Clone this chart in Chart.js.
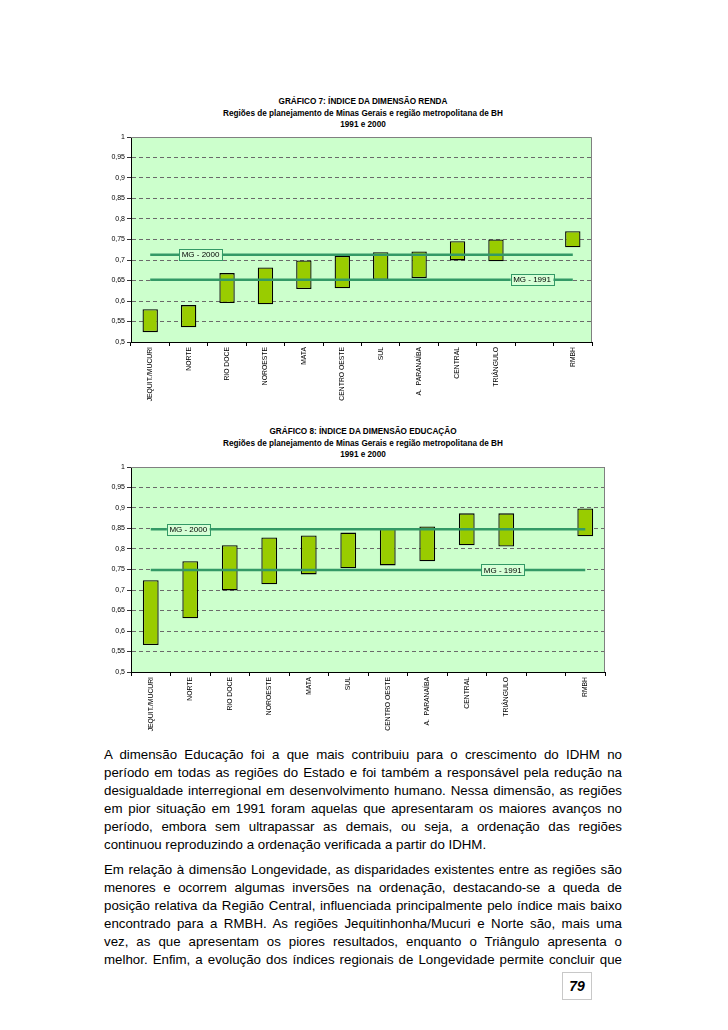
<!DOCTYPE html>
<html>
<head>
<meta charset="utf-8">
<script src="https://cdn.jsdelivr.net/npm/chart.js@4.4.1/dist/chart.umd.min.js"></script>
<style>
  body { margin: 0; background: #fff; width: 728px; height: 1030px; position: relative; overflow: hidden;
         font-family: "Liberation Sans", Arial, sans-serif; color: #000; }
  .titulo { position: absolute; left: 163px; width: 400px; text-align: center; font-weight: bold;
            font-size: 8.2px; line-height: 11.5px; }
  .grafico { position: absolute; left: 95px; }
  .texto { position: absolute; left: 104px; top: 746px; width: 518px; font-size: 13.3px; line-height: 18px; }
  .texto p { margin: 0 0 7px 0; }
  .texto span { display: block; text-align: justify; text-align-last: justify; }
  .texto span.fim { text-align-last: left; }
  .pagina { position: absolute; left: 562px; top: 972px; width: 28px; height: 26px; border: 1px solid #c8c8c8;
            font-weight: bold; font-style: italic; font-size: 14px; line-height: 26px; text-align: center; }
</style>
</head>
<body>

<div class="titulo" style="top:96px">GRÁFICO 7: ÍNDICE DA DIMENSÃO RENDA<br>Regiões de planejamento de Minas Gerais e região metropolitana de BH<br>1991 e 2000</div>
<canvas id="grafRenda" class="grafico" style="top:130px" width="536" height="276"></canvas>

<div class="titulo" style="top:426px">GRÁFICO 8: ÍNDICE DA DIMENSÃO EDUCAÇÃO<br>Regiões de planejamento de Minas Gerais e região metropolitana de BH<br>1991 e 2000</div>
<canvas id="grafEduc" class="grafico" style="top:460px" width="536" height="276"></canvas>

<div class="texto">
  <p>
    <span>A dimensão Educação foi a que mais contribuiu para o crescimento do IDHM no</span>
    <span>período em todas as regiões do Estado e foi também a responsável pela redução na</span>
    <span>desigualdade interregional em desenvolvimento humano. Nessa dimensão, as regiões</span>
    <span>em pior situação em 1991 foram aquelas que apresentaram os maiores avanços no</span>
    <span>período, embora sem ultrapassar as demais, ou seja, a ordenação das regiões</span>
    <span class="fim">continuou reproduzindo a ordenação verificada a partir do IDHM.</span>
  </p>
  <p>
    <span>Em relação à dimensão Longevidade, as disparidades existentes entre as regiões são</span>
    <span>menores e ocorrem algumas inversões na ordenação, destacando-se a queda de</span>
    <span>posição relativa da Região Central, influenciada principalmente pelo índice mais baixo</span>
    <span>encontrado para a RMBH. As regiões Jequitinhonha/Mucuri e Norte são, mais uma</span>
    <span>vez, as que apresentam os piores resultados, enquanto o Triângulo apresenta o</span>
    <span>melhor. Enfim, a evolução dos índices regionais de Longevidade permite concluir que</span>
  </p>
</div>

<div class="pagina">79</div>

<script>
const regioesRenda = ['JEQUIT./MUCURI', 'NORTE', 'RIO DOCE', 'NOROESTE', 'MATA', 'CENTRO OESTE', 'SUL',
  'A.  PARANAÍBA', 'CENTRAL', 'TRIÂNGULO', '', 'RMBH'];
const renda1991 = [0.524, 0.536, 0.595, 0.592, 0.629, 0.631, 0.652, 0.656, 0.699, 0.697, null, 0.731];
const renda2000 = [0.580, 0.590, 0.668, 0.682, 0.699, 0.710, 0.719, 0.721, 0.746, 0.750, null, 0.770];
const mgRenda1991 = 0.652;
const mgRenda2000 = 0.713;

const regioesEduc = ['JEQUIT./MUCURI', 'NORTE', 'RIO DOCE', 'NOROESTE', 'MATA', 'SUL', 'CENTRO OESTE',
  'A.  PARANAÍBA', 'CENTRAL', 'TRIÂNGULO', '', 'RMBH'];
const educ1991 = [0.566, 0.631, 0.699, 0.714, 0.738, 0.753, 0.760, 0.770, 0.809, 0.806, null, 0.831];
const educ2000 = [0.724, 0.770, 0.809, 0.828, 0.833, 0.840, 0.850, 0.855, 0.887, 0.887, null, 0.899];
const mgEduc1991 = 0.749;
const mgEduc2000 = 0.848;

const yMin = 0.5, yMax = 1, yStep = 0.05;

const fundoPlugin = {
  id: 'fundo',
  beforeDraw(chart) {
    const a = chart.chartArea, ctx = chart.ctx;
    ctx.save();
    ctx.fillStyle = '#ccffcc';
    ctx.fillRect(a.left, a.top, a.right - a.left, a.bottom - a.top);
    ctx.restore();
  },
  beforeDatasetsDraw(chart) {
    // borda superior e direita da área do gráfico
    const a = chart.chartArea, ctx = chart.ctx;
    ctx.save();
    ctx.strokeStyle = '#808080';
    ctx.lineWidth = 1;
    ctx.beginPath();
    ctx.moveTo(a.left, a.top + 0.5);
    ctx.lineTo(a.right - 0.5, a.top + 0.5);
    ctx.lineTo(a.right - 0.5, a.bottom);
    ctx.stroke();
    ctx.restore();
  }
};

// caixinhas "MG - 2000" / "MG - 1991" sobre as linhas
const rotuloPlugin = {
  id: 'rotulosMG',
  afterDatasetsDraw(chart, args, opts) {
    const xs = chart.scales.x, ys = chart.scales.y, ctx = chart.ctx;
    const x0 = xs.getPixelForTick(0), dx = xs.getPixelForTick(1) - x0;
    ctx.save();
    ctx.font = '8px "Liberation Sans", Arial, sans-serif';
    ctx.textAlign = 'center';
    ctx.textBaseline = 'middle';
    (opts.itens || []).forEach(it => {
      const cx = x0 + it.em * dx;
      const cy = ys.getPixelForValue(it.valor);
      const w = ctx.measureText(it.texto).width + 5, h = 11;
      ctx.fillStyle = '#d6ffd6';
      ctx.fillRect(cx - w / 2, cy - h / 2, w, h);
      ctx.strokeStyle = '#339966';
      ctx.lineWidth = 1;
      ctx.strokeRect(Math.round(cx - w / 2) + 0.5, Math.round(cy - h / 2) + 0.5, Math.round(w), h);
      ctx.fillStyle = '#000';
      ctx.fillText(it.texto, cx, cy + 0.5);
    });
    ctx.restore();
  }
};

function montarGrafico(id, rotulos, v1991, v2000, mg1991, mg2000, padDireita, posRotulos) {
  const barras = v1991.map((v, i) => (v == null ? null : [v, v2000[i]]));
  new Chart(document.getElementById(id), {
    data: {
      labels: rotulos,
      datasets: [
        { type: 'line', label: 'MG - 2000', data: rotulos.map(() => mg2000), borderColor: '#339966',
          borderWidth: 2.5, pointRadius: 0, order: 1 },
        { type: 'line', label: 'MG - 1991', data: rotulos.map(() => mg1991), borderColor: '#339966',
          borderWidth: 2.5, pointRadius: 0, order: 1 },
        { type: 'bar', label: '1991-2000', data: barras, backgroundColor: '#99cc00', borderColor: '#000',
          borderWidth: 1.3, borderSkipped: false, barPercentage: 0.4, categoryPercentage: 1, order: 2 }
      ]
    },
    options: {
      responsive: false,
      animation: false,
      layout: { padding: { top: 7, right: padDireita, left: 0, bottom: 0 } },
      plugins: {
        legend: { display: false },
        tooltip: { enabled: false },
        rotulosMG: { itens: posRotulos }
      },
      scales: {
        x: {
          offset: true,
          grid: { offset: true, drawOnChartArea: false, drawTicks: true, tickLength: 4, color: '#000' },
          border: { color: '#000', width: 1 },
          ticks: { autoSkip: false, minRotation: 90, maxRotation: 90, padding: 1, color: '#000',
                   font: { family: '"Liberation Sans", Arial, sans-serif', size: 6.8 } },
          afterFit: s => { s.height = 64; }
        },
        y: {
          min: yMin, max: yMax,
          grid: { color: '#6a6a6a', tickLength: 4, tickColor: '#333', tickBorderDash: [] },
          border: { color: '#000', width: 1, dash: [4, 3] },
          ticks: { stepSize: yStep, padding: 2, color: '#000',
                   font: { family: '"Liberation Sans", Arial, sans-serif', size: 7 },
                   callback: v => String(Number(v.toFixed(2))).replace('.', ',') },
          afterFit: s => { s.width = 36; }
        }
      }
    },
    plugins: [fundoPlugin, rotuloPlugin]
  });
}

montarGrafico('grafRenda', regioesRenda, renda1991, renda2000, mgRenda1991, mgRenda2000, 39, [
  { texto: 'MG - 2000', valor: mgRenda2000, em: 1.31 },
  { texto: 'MG - 1991', valor: mgRenda1991, em: 9.94 }
]);

montarGrafico('grafEduc', regioesEduc, educ1991, educ2000, mgEduc1991, mgEduc2000, 26, [
  { texto: 'MG - 2000', valor: mgEduc2000, em: 0.95 },
  { texto: 'MG - 1991', valor: mgEduc1991, em: 8.91 }
]);
</script>
</body>
</html>
